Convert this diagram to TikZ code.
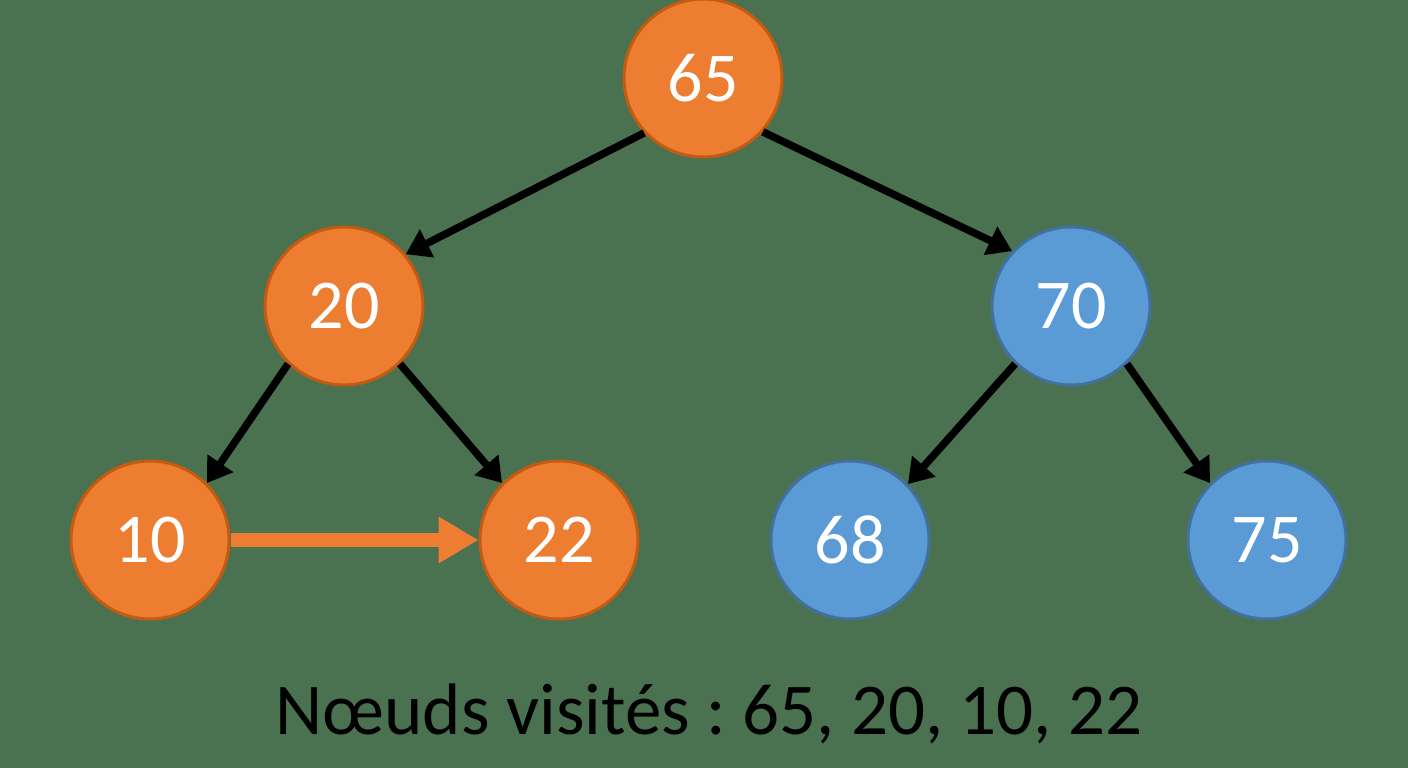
\documentclass[tikz,border=0pt]{standalone}
\usepackage{fontspec}
\setmainfont{Carlito}
\usetikzlibrary{arrows.meta}
\definecolor{bg}{RGB}{74,114,80}
\definecolor{ofill}{RGB}{237,125,49}
\definecolor{oline}{RGB}{197,90,17}
\definecolor{bfill}{RGB}{91,155,213}
\definecolor{bline}{RGB}{65,113,156}
\tikzset{
  onode/.style={circle,fill=ofill,draw=oline,line width=3pt,minimum size=158pt,inner sep=0pt,text=white,font=\fontsize{70}{70}\selectfont},
  bnode/.style={onode,fill=bfill,draw=bline},
  edge/.style={line width=7.5pt,black,-{Triangle[length=24pt,width=30pt]}},
  visit/.style={line width=13.5pt,ofill,-{Triangle[length=40pt,width=44pt]}}
}
\begin{document}
\frenchspacing
\begin{tikzpicture}[x=1pt,y=-1pt]
\fill[bg] (0,0) rectangle (1408,768);
\useasboundingbox (0,0) rectangle (1408,768);
\node[onode] (n65) at (703,78) {65};
\node[onode] (n20) at (344,306) {20};
\node[bnode] (n70) at (1071,306) {70};
\node[onode] (n10) at (150,540) {10};
\node[onode] (n22) at (559,540) {22};
\node[bnode] (n68) at (850,540) {68};
\node[bnode] (n75) at (1267,540) {75};
\draw[edge] (n65.223) -- (n20.40);
\draw[edge] (n65.318) -- (n70.137);
\draw[edge] (n20.226) -- (n10.45);
\draw[edge] (n20.314) -- (n22.135);
\draw[edge] (n70.226) -- (n68.44);
\draw[edge] (n70.314) -- (n75.135);
\draw[visit] (n10) -- (n22);
\node[font=\fontsize{73}{73}\selectfont,text=black] (cap) at (709,714) {Nœuds visités : 65, 20, 10, 22};
\end{tikzpicture}
\end{document}
